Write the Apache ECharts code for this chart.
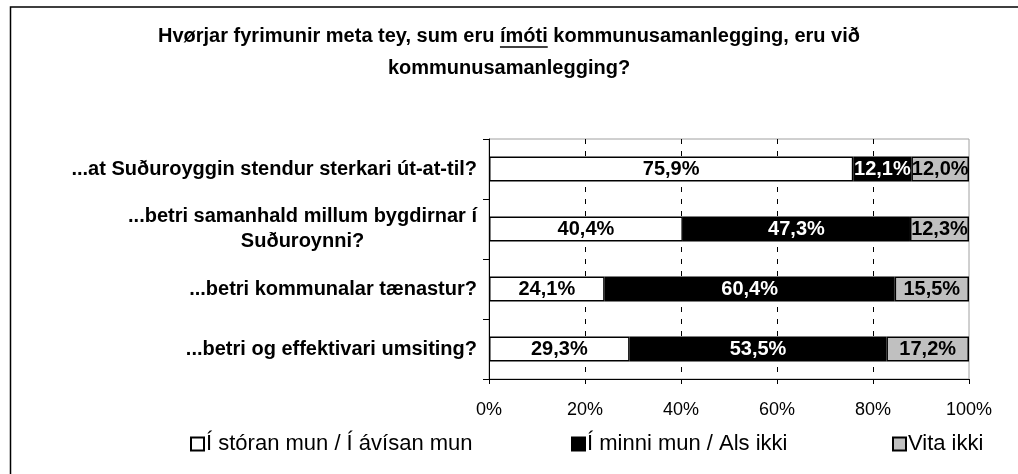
<!DOCTYPE html>
<html>
<head>
<meta charset="utf-8">
<script src="https://cdn.jsdelivr.net/npm/echarts@6/dist/echarts.min.js"></script>
<style>
html,body{margin:0;padding:0;background:#fff;}
#chart{width:1018px;height:474px;}
</style>
</head>
<body>
<div id="chart"></div>
<script>
// ---- data ----
const titleLines = [
  'Hvørjar fyrimunir meta tey, sum eru ímóti kommunusamanlegging, eru við',
  'kommunusamanlegging?'
];
const underlinedWord = 'ímóti';
const categories = [
  '...at Suðuroyggin stendur sterkari út-at-til?',
  '...betri samanhald millum bygdirnar í\nSuðuroynni?',
  '...betri kommunalar tænastur?',
  '...betri og effektivari umsiting?'
];
const seriesNames = ['Í stóran mun / Í ávísan mun', 'Í minni mun / Als ikki', 'Vita ikki'];
const storanMun = [75.9, 40.4, 24.1, 29.3];
const minniMun = [12.1, 47.3, 60.4, 53.5];
const vitaIkki = [12.0, 12.3, 15.5, 17.2];
const xTicks = [0, 20, 40, 60, 80, 100];

// ---- chart ----
const FONT = '"Liberation Sans", Arial, sans-serif';
const chart = echarts.init(document.getElementById('chart'), null, {renderer: 'canvas'});

const fmtPct = v => v.toFixed(1).replace('.', ',') + '%';

function catLabel(v) {
  return v.split('\n').map((l, i) => i === 0 ? '{r|' + l + '}' : '{c|' + l + '}').join('\n');
}

const fills = ['#ffffff', '#000000', '#c0c0c0'];
const labelColors = ['#000000', '#ffffff', '#000000'];
const values = [storanMun, minniMun, vitaIkki];

const series = seriesNames.map((name, i) => ({
  name: name,
  type: 'bar',
  stack: 'total',
  barWidth: 25,
  data: values[i],
  itemStyle: {color: fills[i], borderColor: '#000', borderWidth: 1.5},
  label: {
    show: true,
    position: 'inside',
    formatter: p => fmtPct(p.value),
    color: labelColors[i],
    fontFamily: FONT,
    fontWeight: 'bold',
    fontSize: 20
  }
}));

const legendLefts = [190, 571, 892];
const legends = seriesNames.map((name, i) => ({
  data: [name],
  left: legendLefts[i],
  top: 433,
  padding: 0,
  itemWidth: 13,
  itemHeight: 13,
  icon: 'rect',
  selectedMode: false,
  textStyle: {fontFamily: FONT, fontSize: 22, color: '#000', padding: [0, 0, 0, -3]}
}));

// title, centred lines, underline position from text metrics
const CX = 509;
const TITLE_SIZE = 20;
const TITLE_Y = [36, 68];
const ctx = document.createElement('canvas').getContext('2d');
ctx.font = 'bold ' + TITLE_SIZE + 'px ' + FONT;
const lineW = ctx.measureText(titleLines[0]).width;
const idx = titleLines[0].indexOf(underlinedWord);
const preW = ctx.measureText(titleLines[0].slice(0, idx)).width;
const wordW = ctx.measureText(underlinedWord).width;
const lineX0 = CX - lineW / 2;

const titleGraphics = titleLines.map((t, i) => ({
  type: 'text', x: CX, y: TITLE_Y[i], silent: true,
  style: {text: t, fill: '#000', font: 'bold ' + TITLE_SIZE + 'px ' + FONT, textAlign: 'center', textVerticalAlign: 'middle'}
}));

const option = {
  backgroundColor: '#fff',
  animation: false,
  legend: legends,
  grid: {
    left: 489, right: 49, top: 139, bottom: 95,
    show: true, borderColor: '#a0a0a0', borderWidth: 1, backgroundColor: 'transparent'
  },
  xAxis: {
    type: 'value',
    min: xTicks[0], max: xTicks[xTicks.length - 1], interval: xTicks[1] - xTicks[0],
    axisLine: {show: true, lineStyle: {color: '#000', width: 1}},
    axisTick: {show: true, length: 5, lineStyle: {color: '#000'}},
    axisLabel: {formatter: '{value}%', fontFamily: FONT, fontSize: 18, color: '#000', margin: 22},
    splitLine: {show: true, showMinLine: false, showMaxLine: false, lineStyle: {color: '#000', type: [5, 7], width: 1}}
  },
  yAxis: {
    type: 'category',
    inverse: true,
    data: categories,
    axisLine: {show: true, lineStyle: {color: '#000', width: 1}},
    axisTick: {show: true, length: 6, lineStyle: {color: '#000'}},
    axisLabel: {
      margin: 12,
      formatter: catLabel,
      rich: {
        r: {fontFamily: FONT, fontSize: 20, fontWeight: 'bold', color: '#000', lineHeight: 25},
        c: {fontFamily: FONT, fontSize: 20, fontWeight: 'bold', color: '#000', lineHeight: 25, align: 'center'}
      }
    }
  },
  series: series,
  graphic: [
    {type: 'rect', shape: {x: 10.5, y: 7, width: 1100, height: 600}, style: {fill: 'none', stroke: '#000', lineWidth: 1.5}, silent: true}
  ].concat(titleGraphics).concat([
    {type: 'line', shape: {x1: lineX0 + preW, y1: TITLE_Y[0] + 11, x2: lineX0 + preW + wordW, y2: TITLE_Y[0] + 11}, style: {stroke: '#000', lineWidth: 1.5}, silent: true}
  ])
};
chart.setOption(option);
</script>
</body>
</html>
